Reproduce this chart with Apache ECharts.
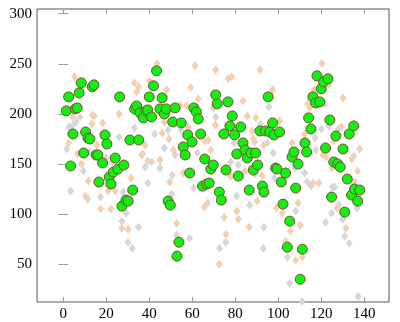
<!DOCTYPE html>
<html>
<head>
<meta charset="utf-8">
<script src="https://cdn.jsdelivr.net/npm/echarts@6/dist/echarts.min.js"></script>
<style>
  html, body { margin: 0; padding: 0; background: #fff; }
  #chart { width: 400px; height: 322px; }
</style>
</head>
<body>
<div id="chart"></div>
<script>
// tick values shown on the axes
const xTicks = [0, 20, 40, 60, 80, 100, 120, 140];
const yTicks = [50, 100, 150, 200, 250, 300];

// light gray diamonds [x, y]
const grayPoints = [
  [1.6, 165], [2.7, 187], [3.4, 123], [4.5, 189], [6.0, 192], [7.8, 197], [9.4, 143],
  [11.4, 115], [12.3, 162], [13.5, 199], [17.3, 117], [19.9, 156], [22.7, 152], [26.0, 177],
  [27.3, 93], [27.9, 122], [29.2, 101], [30.1, 72], [32.2, 66], [33.2, 186], [35.0, 87],
  [36.6, 159], [38.1, 147], [39.3, 131], [41.1, 152], [42.5, 180], [45.0, 146], [47.0, 166],
  [48.8, 184], [50.4, 120], [50.7, 139], [52.0, 159], [52.7, 79], [54.7, 184], [58.8, 76],
  [60.7, 126], [62.3, 161], [67.2, 111], [70.6, 189], [70.9, 197], [72.7, 66], [75.6, 72],
  [77.9, 152], [79.5, 171], [80.7, 118], [81.4, 149], [86.7, 109], [89.0, 172], [89.2, 140],
  [91.8, 190], [93.3, 87], [93.0, 66], [94.9, 171], [95.7, 207], [97.7, 161], [97.7, 145],
  [98.3, 136], [104.2, 57], [105.3, 31], [107.6, 146], [108.1, 103], [111.0, 13], [112.3, 141],
  [113.5, 132], [115.3, 128], [117.1, 176], [117.4, 164], [120.0, 185], [121.6, 210], [122.0, 92],
  [123.5, 188], [124.8, 101], [125.1, 127], [126.2, 127], [127.8, 185], [128.1, 109], [130.0, 95],
  [130.9, 78], [133.0, 71], [134.3, 126], [135.1, 158], [136.6, 106], [137.1, 18], [138.1, 111]
];

// peach diamonds [x, y]
const peachPoints = [
  [2.5, 171], [4.4, 197], [5.3, 237], [6.7, 160], [8.5, 150], [10.3, 118], [11.7, 133],
  [13.3, 190], [14.4, 198], [15.6, 169], [17.4, 105], [18.3, 191], [20.8, 123], [22.2, 105],
  [24.2, 123], [26.0, 200], [27.2, 86], [30.2, 85], [31.6, 136], [33.0, 231], [34.1, 222],
  [35.1, 227], [36.9, 160], [38.0, 169], [39.3, 153], [40.0, 233], [43.6, 250], [45.0, 154],
  [46.0, 181], [47.0, 192], [48.1, 224], [49.2, 175], [49.6, 132], [51.2, 164], [52.7, 91],
  [53.0, 60], [54.3, 209], [55.8, 141], [57.1, 208], [58.1, 187], [59.3, 226], [61.3, 248],
  [62.8, 215], [65.6, 107], [65.9, 173], [67.4, 174], [68.7, 164], [69.8, 206], [70.9, 244],
  [70.9, 189], [72.6, 50], [74.8, 97], [75.7, 80], [76.7, 235], [77.9, 138], [78.3, 237],
  [80.7, 103], [81.4, 95], [83.6, 213], [84.4, 143], [85.6, 198], [86.5, 87], [87.8, 183],
  [88.4, 175], [89.6, 196], [90.2, 113], [91.5, 244], [92.6, 138], [93.3, 169], [97.4, 224],
  [99.1, 106], [100.6, 193], [101.9, 101], [103.4, 73], [105.6, 83], [106.4, 171], [108.1, 54],
  [109.2, 111], [110.2, 89], [111.2, 57], [112.3, 180], [113.7, 210], [114.6, 206], [116.1, 131],
  [116.9, 224], [118.9, 131], [120.3, 250], [120.8, 159], [122.3, 157], [123.5, 229], [125.0, 146],
  [125.8, 173], [127.3, 106], [129.3, 187], [130.1, 216], [131.5, 86], [134.2, 155], [135.5, 132],
  [136.9, 143], [137.9, 165]
];

// green circles [x, y]
const greenPoints = [
  [1.4, 203], [2.5, 217], [3.4, 148], [4.5, 180], [5.6, 205], [6.5, 206], [7.4, 221],
  [8.4, 231], [9.5, 161], [10.4, 182], [11.5, 176], [12.4, 175], [13.5, 227], [14.3, 229],
  [15.3, 159], [16.1, 159], [16.6, 132], [18.3, 151], [19.4, 179], [20.3, 170], [21.4, 137],
  [22.2, 130], [23.3, 142], [24.2, 156], [25.4, 145], [26.2, 217], [27.3, 108], [28.2, 149],
  [29.2, 114], [30.2, 113], [31.0, 174], [32.3, 124], [33.2, 205], [34.1, 208], [35.1, 174],
  [35.8, 201], [37.2, 196], [38.5, 203], [39.3, 204], [40.0, 217], [41.1, 197], [42.0, 228],
  [43.4, 243], [45.0, 205], [46.0, 216], [47.0, 200], [47.9, 205], [48.8, 113], [49.8, 109],
  [50.9, 192], [52.0, 206], [52.9, 58], [53.8, 72], [54.9, 191], [55.8, 167], [56.7, 159],
  [57.9, 179], [58.8, 141], [59.9, 172], [60.7, 206], [61.9, 202], [62.8, 195], [63.9, 180],
  [64.8, 128], [65.8, 155], [66.7, 130], [67.9, 131], [68.6, 145], [69.8, 149], [70.9, 219],
  [71.6, 210], [72.6, 122], [73.5, 114], [74.7, 180], [75.7, 144], [76.6, 212], [77.5, 188],
  [78.6, 198], [79.7, 179], [80.7, 160], [81.4, 138], [82.5, 187], [83.6, 171], [84.5, 164],
  [85.6, 156], [86.5, 124], [87.3, 161], [88.4, 144], [89.5, 161], [90.4, 149], [91.5, 183],
  [92.6, 128], [93.3, 122], [94.1, 183], [95.3, 217], [96.0, 182], [97.4, 191], [98.0, 179],
  [98.8, 146], [99.4, 145], [100.6, 182], [101.4, 132], [102.2, 110], [103.4, 141], [104.2, 67],
  [105.3, 93], [106.4, 157], [107.3, 162], [108.1, 126], [109.2, 150], [110.2, 35], [111.2, 65],
  [112.4, 171], [113.2, 162], [114.1, 196], [115.2, 185], [116.1, 217], [117.4, 211], [118.0, 238],
  [119.3, 212], [120.0, 225], [121.1, 232], [122.0, 166], [123.1, 235], [124.0, 194], [124.8, 117],
  [125.8, 152], [126.8, 178], [127.6, 150], [128.8, 147], [130.1, 165], [130.9, 102], [132.1, 135],
  [133.0, 180], [134.1, 119], [135.1, 188], [135.5, 125], [136.9, 113], [137.9, 124]
];

const chart = echarts.init(document.getElementById('chart'), null, { renderer: 'canvas' });

const labelFont = { fontFamily: 'Liberation Serif', fontSize: 15, color: '#000' };
const tickStyle = { inside: true, length: 5, lineStyle: { color: '#9a9a9a', width: 1 } };

chart.setOption({
  animation: false,
  grid: {
    left: 37, right: 11, top: 9, bottom: 20,
    show: true, borderColor: '#555', borderWidth: 1, backgroundColor: '#fff'
  },
  xAxis: [
    {
      type: 'value', position: 'bottom', min: -12.2, max: 151.5,
      axisLine: { show: false },
      axisTick: { ...tickStyle, customValues: xTicks },
      axisLabel: { ...labelFont, margin: 5, customValues: xTicks },
      splitLine: { show: false }
    },
    {
      type: 'value', position: 'top', min: -12.2, max: 151.5,
      axisLine: { show: false },
      axisTick: { ...tickStyle, customValues: xTicks },
      axisLabel: { show: false },
      splitLine: { show: false }
    }
  ],
  yAxis: [
    {
      type: 'value', position: 'left', min: 12.3, max: 304.7,
      axisLine: { show: false },
      axisTick: { ...tickStyle, customValues: yTicks },
      axisLabel: { ...labelFont, margin: 5, customValues: yTicks },
      splitLine: { show: false }
    },
    {
      type: 'value', position: 'right', min: 12.3, max: 304.7,
      axisLine: { show: false },
      axisTick: { ...tickStyle, customValues: yTicks },
      axisLabel: { show: false },
      splitLine: { show: false }
    }
  ],
  series: [
    {
      name: 'gray', type: 'scatter', symbol: 'diamond', symbolSize: [7, 9],
      itemStyle: { color: '#d7d7d7', opacity: 1 },
      data: grayPoints
    },
    {
      name: 'peach', type: 'scatter', symbol: 'diamond', symbolSize: [7, 9],
      itemStyle: { color: '#f2d0b0', opacity: 1 },
      data: peachPoints
    },
    {
      name: 'green', type: 'scatter', symbol: 'circle', symbolSize: 10,
      itemStyle: { color: '#12f012', borderColor: '#74502c', borderWidth: 1, opacity: 1 },
      data: greenPoints
    }
  ]
});
</script>
</body>
</html>
